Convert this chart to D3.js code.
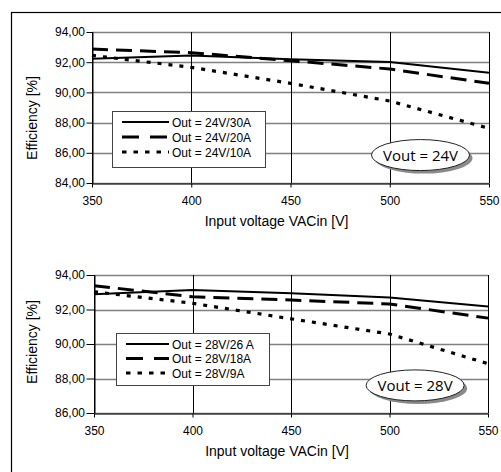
<!DOCTYPE html>
<html>
<head>
<meta charset="utf-8">
<script src="https://cdn.jsdelivr.net/npm/d3@7"></script>
<style>
  body { margin: 0; background: #fff; }
  svg { display: block; }
  text { font-family: "Liberation Sans", Arial, sans-serif; fill: #000; }
</style>
</head>
<body>
<div id="vis"></div>
<script>
// input voltage (x) shared by both panels
const inputVoltage = [350, 400, 450, 500, 550];

// Vout = 24V panel
const eff24v30a = [92.23, 92.45, 92.19, 92.01, 91.30];
const eff24v20a = [92.87, 92.63, 92.10, 91.55, 90.60];
const eff24v10a = [92.45, 91.66, 90.60, 89.43, 87.62];
const labels24 = ["Out = 24V/30A", "Out = 24V/20A", "Out = 24V/10A"];
const yTicks24 = [84, 86, 88, 90, 92, 94];

// Vout = 28V panel
const eff28v26a = [92.88, 93.13, 92.94, 92.69, 92.17];
const eff28v18a = [93.38, 92.74, 92.55, 92.32, 91.50];
const eff28v9a = [93.03, 92.36, 91.46, 90.58, 88.86];
const labels28 = ["Out = 28V/26 A", "Out = 28V/18A", "Out = 28V/9A"];
const yTicks28 = [86, 88, 90, 92, 94];

const xTicks = [350, 400, 450, 500, 550];

// line styles: solid, long dash, square dots
const styles = [
  { width: 2, dash: null },
  { width: 3, dash: "16,8" },
  { width: 3.2, dash: "4,7" }
];

const W = 501, H = 472;
const fmt = d => d3.format(".2f")(d).replace(".", ",");

const svg = d3.select("#vis")
  .append("svg")
  .attr("width", W)
  .attr("height", H);

// outer frame (only left/top edges are visible in the picture)
svg.append("rect")
  .attr("x", 11.5).attr("y", 12.5)
  .attr("width", 600).attr("height", 600)
  .attr("fill", "none")
  .attr("stroke", "#000")
  .attr("stroke-width", 1.2);

function drawPanel(p) {
  const x = d3.scaleLinear().domain([350, 550]).range([p.left, p.right]);
  const y = d3.scaleLinear().domain(p.yDomain).range([p.bottom, p.top]);
  const g = svg.append("g");

  // horizontal gridlines (gray)
  g.selectAll(".hg")
    .data(p.yTicks)
    .enter().append("line")
    .attr("x1", p.left).attr("x2", p.right)
    .attr("y1", d => Math.round(y(d)) + 0.5)
    .attr("y2", d => Math.round(y(d)) + 0.5)
    .attr("stroke", "#808080")
    .attr("stroke-width", 1.3);

  // vertical gridlines (black)
  g.selectAll(".vg")
    .data(xTicks)
    .enter().append("line")
    .attr("x1", d => Math.round(x(d)) + 0.5)
    .attr("x2", d => Math.round(x(d)) + 0.5)
    .attr("y1", p.top).attr("y2", p.bottom)
    .attr("stroke", "#000")
    .attr("stroke-width", 1);

  // y axis
  const yAxis = g.append("g")
    .attr("transform", "translate(" + (Math.round(p.left) + 0.5) + ",0)")
    .call(d3.axisLeft(y).tickValues(p.yTicks).tickFormat(fmt)
      .tickSizeInner(p.left - 86).tickSizeOuter(0).tickPadding(1.5));
  yAxis.select(".domain").attr("stroke", "#000");
  yAxis.selectAll("text").style("font-size", "12px")
    .style("font-family", "'Liberation Sans', Arial, sans-serif");

  // x axis
  const xAxis = g.append("g")
    .attr("transform", "translate(0," + (Math.round(p.bottom) + 0.5) + ")")
    .call(d3.axisBottom(x).tickValues(xTicks).tickFormat(d3.format("d"))
      .tickSizeInner(4).tickSizeOuter(0).tickPadding(9));
  xAxis.select(".domain").attr("stroke", "#000");
  xAxis.selectAll("text").style("font-size", "12px")
    .style("font-family", "'Liberation Sans', Arial, sans-serif");

  // axis titles
  g.append("text")
    .attr("x", (p.left + p.right) / 2 - 14)
    .attr("y", p.bottom + 43)
    .attr("text-anchor", "middle")
    .style("font-size", "14px")
    .text("Input voltage VACin [V]");

  g.append("text")
    .attr("transform", "translate(37," + p.titleY + ") rotate(-90)")
    .attr("text-anchor", "middle")
    .style("font-size", "14px")
    .text("Efficiency [%]");

  // series
  const line = d3.line()
    .x((d, i) => x(inputVoltage[i]))
    .y(d => y(d));

  p.series.forEach((s, i) => {
    g.append("path")
      .datum(s)
      .attr("d", line)
      .attr("fill", "none")
      .attr("stroke", "#000")
      .attr("stroke-width", styles[i].width)
      .attr("stroke-dasharray", styles[i].dash);
  });

  // legend
  const lg = g.append("g");
  lg.append("rect")
    .attr("x", p.legend.x + 0.5).attr("y", p.legend.y + 0.5)
    .attr("width", p.legend.w).attr("height", p.legend.h)
    .attr("fill", "#fff")
    .attr("stroke", "#444")
    .attr("stroke-width", 1);

  p.labels.forEach((lab, i) => {
    const ry = p.legend.y + 11 + i * p.legend.step;
    lg.append("line")
      .attr("x1", p.legend.sx1).attr("x2", 169)
      .attr("y1", ry).attr("y2", ry)
      .attr("stroke", "#000")
      .attr("stroke-width", styles[i].width)
      .attr("stroke-dasharray", i === 1 ? "17,11" : (i === 2 ? "4.5,7" : null));
    lg.append("text")
      .attr("x", 172).attr("y", ry + 4.5)
      .style("font-size", "12px")
      .text(lab);
  });

  // Vout callout
  const cx = x(p.callout.x), cy = y(p.callout.y);
  g.append("ellipse")
    .attr("cx", cx + 3).attr("cy", cy + 3)
    .attr("rx", 49).attr("ry", 15.5)
    .attr("fill", "#8a8a8a");
  g.append("ellipse")
    .attr("cx", cx).attr("cy", cy)
    .attr("rx", 49).attr("ry", 15.5)
    .attr("fill", "#fff")
    .attr("stroke", "#222")
    .attr("stroke-width", 1);
  g.append("text")
    .attr("x", cx).attr("y", cy + 5.5)
    .attr("text-anchor", "middle")
    .style("font-family", "'Open Sans', 'DejaVu Sans', sans-serif")
    .style("font-size", "15px")
    .text(p.callout.text);
}

drawPanel({
  left: 92, right: 489, top: 32, bottom: 183,
  yDomain: [84, 94], yTicks: yTicks24,
  series: [eff24v30a, eff24v20a, eff24v10a],
  labels: labels24,
  legend: { x: 112, y: 111, w: 153, h: 56, step: 15, sx1: 122 },
  callout: { x: 515.5, y: 85.85, text: "Vout = 24V" },
  titleY: 118
});

drawPanel({
  left: 94, right: 488, top: 275, bottom: 413,
  yDomain: [86, 94], yTicks: yTicks28,
  series: [eff28v26a, eff28v18a, eff28v9a],
  labels: labels28,
  legend: { x: 116, y: 333, w: 153, h: 52, step: 14.5, sx1: 126 },
  callout: { x: 513, y: 87.6, text: "Vout = 28V" },
  titleY: 342
});
</script>
</body>
</html>
